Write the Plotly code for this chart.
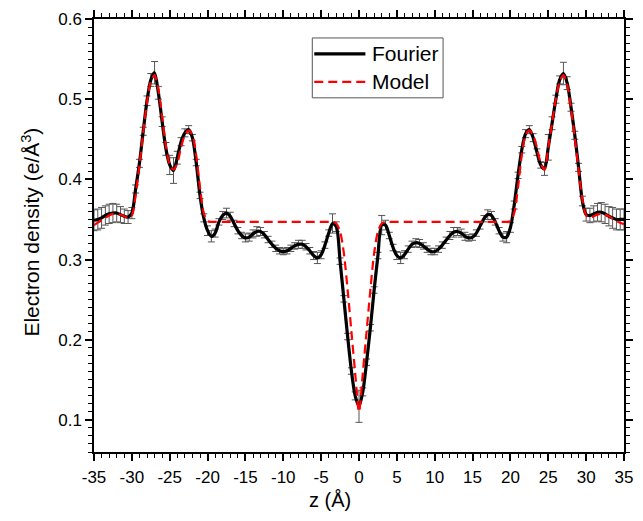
import plotly.graph_objects as go

# z positions (Å), 0.5 Å spacing
z = [i * 0.5 - 35 for i in range(141)]

fourier = [
    0.349, 0.350, 0.352, 0.355, 0.357, 0.358, 0.358, 0.356, 0.354, 0.353,   # -35 .. -30.5
    0.358, 0.388, 0.420, 0.460, 0.498, 0.524, 0.533, 0.508, 0.472, 0.438,   # -30 .. -25.5
    0.418, 0.411, 0.427, 0.447, 0.458, 0.462, 0.452, 0.421, 0.380, 0.352,   # -25 .. -20.5
    0.336, 0.329, 0.333, 0.347, 0.355, 0.358, 0.354, 0.345, 0.336, 0.330,   # -20 .. -15.5
    0.327, 0.328, 0.332, 0.335, 0.335, 0.331, 0.325, 0.319, 0.314, 0.311,   # -15 .. -10.5
    0.310, 0.311, 0.314, 0.317, 0.319, 0.319, 0.316, 0.311, 0.305, 0.302,   # -10 .. -5.5
    0.306, 0.318, 0.333, 0.345, 0.341, 0.298, 0.251, 0.204, 0.161, 0.130,   # -5 .. -0.5
    0.117,                                                                   # 0
    0.135, 0.172, 0.215, 0.262, 0.305, 0.343, 0.343, 0.330, 0.315, 0.305,   # 0.5 .. 5
    0.302, 0.306, 0.313, 0.319, 0.321, 0.320, 0.317, 0.313, 0.310, 0.310,   # 5.5 .. 10
    0.313, 0.318, 0.324, 0.330, 0.334, 0.335, 0.333, 0.329, 0.327, 0.328,   # 10.5 .. 15
    0.333, 0.342, 0.351, 0.356, 0.355, 0.347, 0.336, 0.328, 0.328, 0.340,   # 15.5 .. 20
    0.368, 0.405, 0.437, 0.457, 0.462, 0.452, 0.434, 0.418, 0.413, 0.440,   # 20.5 .. 25
    0.470, 0.500, 0.524, 0.532, 0.520, 0.490, 0.455, 0.415, 0.373, 0.356,   # 25.5 .. 30
    0.355, 0.357, 0.359, 0.359, 0.357, 0.354, 0.352, 0.350, 0.350, 0.350,   # 30.5 .. 35
]

fourier_err = [
    0.013, 0.013, 0.013, 0.012, 0.012, 0.012, 0.011, 0.010, 0.009, 0.008,
    0.007, 0.005, 0.005, 0.005, 0.006, 0.008, 0.014, 0.008, 0.006, 0.008,
    0.012, 0.016, 0.008, 0.005, 0.005, 0.005, 0.004, 0.004, 0.004, 0.005,
    0.006, 0.007, 0.005, 0.004, 0.005, 0.006, 0.005, 0.004, 0.004, 0.004,
    0.005, 0.005, 0.005, 0.006, 0.005, 0.004, 0.004, 0.004, 0.004, 0.004,
    0.004, 0.004, 0.004, 0.004, 0.005, 0.005, 0.004, 0.004, 0.005, 0.007,
    0.005, 0.004, 0.004, 0.012, 0.006, 0.004, 0.004, 0.004, 0.004, 0.005,
    0.020,
    0.005, 0.004, 0.004, 0.004, 0.004, 0.012, 0.006, 0.004, 0.004, 0.005,
    0.007, 0.005, 0.004, 0.004, 0.005, 0.005, 0.004, 0.004, 0.004, 0.004,
    0.004, 0.004, 0.004, 0.005, 0.006, 0.005, 0.005, 0.005, 0.004, 0.004,
    0.004, 0.004, 0.004, 0.006, 0.005, 0.004, 0.004, 0.005, 0.007, 0.006,
    0.005, 0.004, 0.004, 0.005, 0.005, 0.005, 0.004, 0.004, 0.008, 0.016,
    0.008, 0.005, 0.005, 0.014, 0.008, 0.005, 0.005, 0.005, 0.006, 0.008,
    0.009, 0.010, 0.011, 0.012, 0.012, 0.012, 0.013, 0.013, 0.013, 0.013,
]

model = [
    0.343, 0.346, 0.349, 0.352, 0.355, 0.357, 0.357, 0.356, 0.354, 0.352,   # -35 .. -30.5
    0.355, 0.380, 0.418, 0.458, 0.496, 0.522, 0.530, 0.512, 0.478, 0.442,   # -30 .. -25.5
    0.418, 0.412, 0.420, 0.440, 0.455, 0.461, 0.455, 0.430, 0.390, 0.358,   # -25 .. -20.5
    0.348, 0.347, 0.347, 0.347, 0.347, 0.347, 0.347, 0.347, 0.347, 0.347,   # -20 .. -15.5
    0.347, 0.347, 0.347, 0.347, 0.347, 0.347, 0.347, 0.347, 0.347, 0.347,   # -15 .. -10.5
    0.347, 0.347, 0.347, 0.347, 0.347, 0.347, 0.347, 0.347, 0.347, 0.347,   # -10 .. -5.5
    0.347, 0.347, 0.347, 0.347, 0.345, 0.335, 0.308, 0.262, 0.210, 0.158,   # -5 .. -0.5
    0.110,                                                                   # 0
    0.158, 0.210, 0.262, 0.308, 0.335, 0.345, 0.347, 0.347, 0.347, 0.347,   # 0.5 .. 5
    0.347, 0.347, 0.347, 0.347, 0.347, 0.347, 0.347, 0.347, 0.347, 0.347,   # 5.5 .. 10
    0.347, 0.347, 0.347, 0.347, 0.347, 0.347, 0.347, 0.347, 0.347, 0.347,   # 10.5 .. 15
    0.347, 0.347, 0.347, 0.347, 0.347, 0.347, 0.347, 0.347, 0.347, 0.348,   # 15.5 .. 20
    0.358, 0.390, 0.430, 0.455, 0.461, 0.455, 0.440, 0.420, 0.412, 0.440,   # 20.5 .. 25
    0.470, 0.500, 0.522, 0.530, 0.518, 0.488, 0.452, 0.412, 0.375, 0.355,   # 25.5 .. 30
    0.352, 0.354, 0.356, 0.357, 0.356, 0.354, 0.351, 0.348, 0.346, 0.344,   # 30.5 .. 35
]

x_ticks = [-35, -30, -25, -20, -15, -10, -5, 0, 5, 10, 15, 20, 25, 30, 35]
y_ticks = [0.1, 0.2, 0.3, 0.4, 0.5, 0.6]
series_names = ["Fourier", "Model"]

FONT = "Arial, 'Liberation Sans', sans-serif"
W, H = 643, 521
ML, MR, MT, MB = 94, 10, 18, 69
PW, PH = W - ML - MR, H - MT - MB


def px(xp):  # pixel x -> paper x
    return (xp - ML) / PW


def py(yp):  # pixel y (from top) -> paper y
    return (H - MB - yp) / PH


fig = go.Figure()
fig.add_trace(go.Scatter(
    x=z, y=fourier, mode="lines", name=series_names[0], showlegend=False,
    line=dict(color="black", width=3.2, shape="spline", smoothing=0.8),
    error_y=dict(type="data", array=fourier_err, visible=True,
                 color="#555555", thickness=1, width=3.5),
))
fig.add_trace(go.Scatter(
    x=z, y=model, mode="lines", name=series_names[1], showlegend=False,
    line=dict(color="#ff0000", width=2.2, dash="9px,5px", shape="spline", smoothing=0.8),
))

axis_common = dict(
    showline=True, linecolor="black", linewidth=1.5, mirror="ticks",
    ticks="outside", ticklen=7, tickwidth=1.5, tickcolor="black",
    showgrid=False, zeroline=False,
)

fig.update_xaxes(
    range=[-35, 35], tickvals=x_ticks, ticktext=[str(v) for v in x_ticks],
    tickfont=dict(family=FONT, size=17, color="black"), ticklabelstandoff=2,
    minor=dict(dtick=1, ticks="outside", ticklen=4, tickwidth=1.2, tickcolor="black", showgrid=False),
    **axis_common,
)
fig.update_yaxes(
    range=[0.06, 0.6], tickvals=y_ticks, ticktext=[f"{v:.1f}" for v in y_ticks],
    tickfont=dict(family=FONT, size=17, color="black"),
    minor=dict(dtick=0.01, tick0=0, ticks="outside", ticklen=4, tickwidth=1.2, tickcolor="black", showgrid=False),
    **axis_common,
)

# Legend drawn manually (box, sample lines, labels)
shapes = [
    dict(type="rect", xref="paper", yref="paper",
         x0=px(316), x1=px(449), y0=py(97), y1=py(37),
         line=dict(color="#555555", width=1), fillcolor="white", layer="above"),
    dict(type="line", xref="paper", yref="paper",
         x0=px(318), x1=px(370), y0=py(53), y1=py(53),
         line=dict(color="black", width=3.2), layer="above"),
    dict(type="line", xref="paper", yref="paper",
         x0=px(318), x1=px(370), y0=py(81), y1=py(81),
         line=dict(color="#ff0000", width=2.2, dash="9px,5px"), layer="above"),
]
annotations = [
    dict(text=series_names[0], xref="paper", yref="paper", x=px(375), y=py(53),
         xanchor="left", yanchor="middle", showarrow=False,
         font=dict(family=FONT, size=21, color="black")),
    dict(text=series_names[1], xref="paper", yref="paper", x=px(375), y=py(81),
         xanchor="left", yanchor="middle", showarrow=False,
         font=dict(family=FONT, size=21, color="black")),
    dict(text="z (Å)", xref="paper", yref="paper", x=px(334), y=py(500),
         xanchor="center", yanchor="middle", showarrow=False,
         font=dict(family=FONT, size=20, color="black")),
    dict(text="Electron density (e/Å<sup>3</sup>)", xref="paper", yref="paper",
         x=px(29), y=py(232), xanchor="center", yanchor="middle", textangle=-90,
         showarrow=False, font=dict(family=FONT, size=21, color="black")),
]

fig.update_layout(
    width=W, height=H,
    margin=dict(l=ML, r=MR, t=MT, b=MB),
    paper_bgcolor="white", plot_bgcolor="white",
    font=dict(family=FONT, color="black"),
    shapes=shapes, annotations=annotations,
    showlegend=False,
)

fig.write_html("out.html")
